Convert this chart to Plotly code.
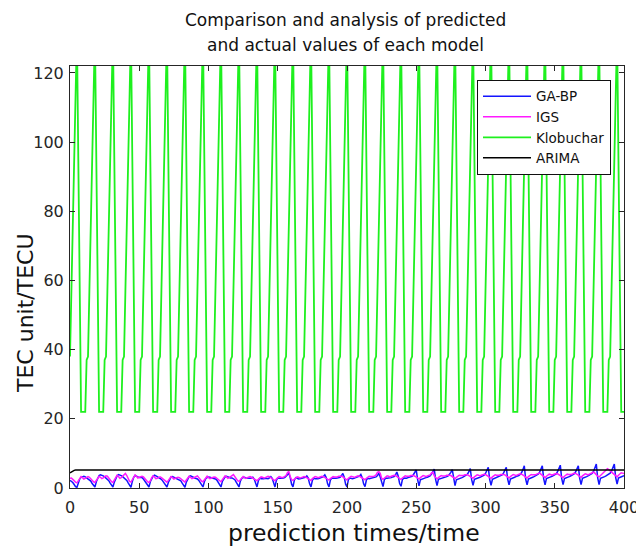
import plotly.graph_objects as go

# ---------------- data ----------------
times = list(range(0, 401))

y_ticks = [0, 20, 40, 60, 80, 100, 120]
x_ticks = [0, 50, 100, 150, 200, 250, 300, 350, 400]

ga_bp = [
    2.2, 2.0, 1.6, 1.0, 0.4, 0.2, 1.5, 2.6, 3.1, 3.3, 3.4, 3.2, 2.9,
    2.7, 2.5, 2.0, 1.3, 0.6, 0.3, 1.8, 3.0, 3.6, 3.8, 3.7, 3.5, 3.2,
    2.9, 2.6, 2.1, 1.4, 0.7, 0.3, 1.7, 2.9, 3.5, 3.9, 3.8, 3.6, 3.3,
    3.0, 2.7, 2.2, 1.5, 0.7, 0.2, 1.9, 3.1, 3.6, 3.5, 3.2, 3.0, 3.1,
    3.0, 2.6, 2.0, 1.3, 0.6, 0.3, 1.8, 2.9, 3.4, 3.7, 3.6, 3.3, 3.0,
    2.8, 2.5, 2.0, 1.4, 0.6, 0.3, 1.6, 2.7, 3.2, 3.3, 3.1, 2.9, 2.8,
    2.7, 2.5, 2.1, 1.4, 0.7, 0.2, 1.7, 2.8, 3.3, 3.5, 3.4, 3.1, 2.9,
    2.8, 2.6, 2.2, 1.5, 0.8, 0.3, 1.8, 2.7, 3.0, 3.2, 3.1, 3.0, 2.9,
    2.8, 2.6, 2.3, 1.6, 0.8, 0.3, 1.9, 2.8, 3.2, 3.4, 3.2, 3.0, 2.9,
    2.9, 2.7, 2.4, 1.7, 0.9, 0.3, 2.0, 2.8, 3.0, 3.1, 2.9, 2.8, 2.8,
    2.8, 2.9, 3.1, 2.6, 1.2, 0.3, 2.1, 2.8, 2.7, 2.6, 2.7, 2.8, 2.7,
    2.7, 2.9, 3.3, 2.8, 1.1, 0.3, 2.2, 2.9, 2.8, 2.7, 2.8, 2.9, 3.0,
    3.4, 3.9, 4.3, 3.0, 1.1, 0.3, 2.3, 3.0, 2.8, 2.6, 2.7, 2.8, 2.8,
    2.9, 3.1, 3.5, 2.9, 1.2, 0.3, 2.2, 2.8, 2.7, 2.6, 2.7, 2.8, 2.9,
    3.0, 3.3, 3.8, 3.0, 1.2, 0.3, 2.3, 2.9, 2.8, 2.7, 2.8, 2.9, 3.0,
    3.1, 3.6, 4.2, 3.1, 1.1, 0.3, 2.4, 2.9, 2.7, 2.7, 2.8, 2.9, 3.0,
    3.1, 3.4, 3.9, 3.0, 1.2, 0.4, 2.3, 2.8, 2.7, 2.8, 2.9, 3.0, 3.1,
    3.2, 3.6, 4.3, 3.2, 1.3, 0.4, 2.4, 2.9, 2.8, 2.8, 2.9, 3.0, 3.2,
    3.3, 3.8, 4.6, 3.4, 1.3, 0.5, 2.4, 2.9, 2.8, 2.8, 3.0, 3.1, 3.2,
    3.4, 3.9, 4.5, 5.2, 2.4, 0.6, 2.4, 2.6, 2.7, 2.8, 3.0, 3.1, 3.3,
    3.5, 4.0, 4.7, 5.5, 2.4, 0.7, 2.5, 2.6, 2.8, 2.9, 3.0, 3.2, 3.3,
    3.5, 3.9, 4.5, 5.3, 2.3, 0.7, 2.4, 2.5, 2.7, 2.9, 3.0, 3.2, 3.4,
    3.6, 4.0, 4.7, 5.6, 2.4, 0.8, 2.5, 2.6, 2.8, 3.0, 3.1, 3.3, 3.5,
    3.7, 4.2, 5.0, 6.0, 2.5, 0.8, 2.5, 2.7, 2.8, 3.0, 3.2, 3.4, 3.6,
    3.8, 4.3, 5.1, 6.0, 2.6, 0.9, 2.6, 2.7, 2.9, 3.1, 3.3, 3.4, 3.6,
    3.9, 4.4, 5.3, 6.4, 2.6, 0.9, 2.6, 2.7, 2.9, 3.1, 3.3, 3.5, 3.7,
    4.0, 4.5, 5.4, 6.4, 2.7, 0.9, 2.7, 2.8, 3.0, 3.2, 3.4, 3.6, 3.8,
    4.1, 4.7, 5.6, 6.6, 2.8, 1.0, 2.7, 2.8, 3.0, 3.2, 3.4, 3.6, 3.8,
    4.1, 4.6, 5.4, 6.4, 2.8, 1.0, 2.8, 2.9, 3.1, 3.3, 3.5, 3.7, 3.9,
    4.2, 4.8, 5.8, 6.9, 2.9, 1.0, 2.8, 2.9, 3.1, 3.3, 3.5, 3.7, 4.0,
    4.3, 4.9, 5.9, 6.9, 3.0, 1.1, 2.9, 3.0, 3.2, 3.4, 3.6,
]

igs = [
    2.8, 2.9, 2.5, 2.0, 1.7, 1.5, 2.0, 2.8, 3.3, 3.0, 2.6, 2.8, 3.1,
    3.3, 3.1, 2.6, 2.1, 1.8, 1.6, 2.1, 2.9, 3.4, 3.1, 2.7, 2.9, 3.2,
    3.5, 3.4, 2.8, 2.2, 1.8, 1.6, 2.2, 3.1, 3.7, 3.3, 2.8, 3.0, 3.4,
    3.9, 4.2, 3.6, 2.5, 1.9, 1.7, 2.3, 3.2, 3.8, 3.4, 2.9, 3.1, 3.3,
    3.4, 3.2, 2.7, 2.2, 1.8, 1.6, 2.1, 3.0, 3.5, 3.2, 2.7, 2.8, 3.1,
    3.2, 3.0, 2.6, 2.2, 1.9, 1.7, 2.2, 2.9, 3.3, 3.0, 2.6, 2.8, 3.0,
    3.1, 3.0, 2.7, 2.3, 1.9, 1.7, 2.3, 3.0, 3.4, 3.1, 2.7, 2.9, 3.1,
    3.3, 3.5, 3.0, 2.4, 2.0, 1.8, 2.3, 3.0, 3.4, 3.0, 2.7, 2.9, 3.1,
    3.2, 3.1, 2.8, 2.4, 2.0, 1.8, 2.4, 3.1, 3.5, 3.2, 2.8, 3.0, 3.2,
    3.6, 3.9, 3.3, 2.5, 2.1, 1.9, 2.4, 3.0, 3.3, 3.0, 2.8, 3.0, 3.2,
    3.3, 3.1, 2.9, 2.6, 2.3, 2.1, 2.5, 3.0, 3.2, 3.1, 2.9, 3.0, 3.2,
    3.4, 3.3, 3.0, 2.7, 2.3, 2.1, 2.6, 3.1, 3.3, 3.2, 3.0, 3.1, 3.3,
    3.6, 4.4, 4.8, 3.3, 2.4, 2.2, 2.6, 3.0, 3.2, 3.1, 2.9, 3.0, 3.2,
    3.3, 3.2, 3.0, 2.7, 2.4, 2.2, 2.7, 3.1, 3.3, 3.2, 3.0, 3.1, 3.3,
    3.4, 3.3, 3.1, 2.8, 2.5, 2.3, 2.7, 3.1, 3.3, 3.2, 3.1, 3.2, 3.4,
    3.5, 3.4, 3.2, 2.9, 2.5, 2.3, 2.8, 3.2, 3.4, 3.3, 3.1, 3.2, 3.4,
    3.5, 3.4, 3.2, 2.9, 2.6, 2.4, 2.8, 3.2, 3.4, 3.3, 3.2, 3.3, 3.5,
    3.8, 4.5, 4.7, 4.2, 2.8, 2.5, 2.9, 3.3, 3.5, 3.4, 3.2, 3.4, 3.6,
    3.7, 3.6, 3.4, 3.1, 2.7, 2.5, 2.9, 3.3, 3.5, 3.4, 3.3, 3.4, 3.6,
    3.7, 3.6, 3.4, 3.1, 2.8, 2.6, 3.0, 3.4, 3.6, 3.5, 3.3, 3.5, 3.7,
    3.8, 4.3, 4.6, 3.5, 2.9, 2.6, 3.0, 3.4, 3.6, 3.5, 3.4, 3.5, 3.7,
    3.8, 3.7, 3.6, 3.3, 2.9, 2.7, 3.1, 3.5, 3.7, 3.6, 3.5, 3.6, 3.8,
    3.9, 3.8, 3.6, 3.3, 3.0, 2.8, 3.2, 3.6, 3.8, 3.7, 3.5, 3.7, 3.9,
    4.0, 3.9, 3.7, 3.4, 3.0, 2.8, 3.2, 3.6, 3.8, 3.7, 3.6, 3.7, 3.9,
    4.0, 3.9, 3.8, 3.5, 3.1, 2.9, 3.3, 3.7, 3.9, 3.8, 3.6, 3.8, 4.0,
    4.1, 4.0, 3.8, 3.5, 3.1, 2.9, 3.3, 3.7, 3.9, 3.8, 3.7, 3.8, 4.0,
    4.2, 4.3, 4.0, 3.6, 3.2, 3.0, 3.4, 3.8, 4.0, 3.9, 3.7, 3.9, 4.1,
    4.2, 4.1, 3.9, 3.6, 3.2, 3.0, 3.4, 3.8, 4.0, 3.9, 3.8, 3.9, 4.1,
    4.3, 4.2, 4.0, 3.7, 3.3, 3.1, 3.5, 3.9, 4.1, 4.0, 3.8, 4.0, 4.2,
    4.4, 4.6, 4.3, 3.8, 3.4, 3.2, 3.6, 4.0, 4.3, 4.6, 5.2, 5.6, 5.3,
    4.9, 4.5, 4.2, 3.8, 3.4, 3.2, 3.7, 4.1, 4.4, 4.3, 4.2,
]

klobuchar = [
    38, 57, 76, 95, 114, 132, 95, 58, 22, 22, 22, 22, 37,
    38, 57, 76, 95, 114, 132, 95, 58, 22, 22, 22, 22, 37,
    38, 57, 76, 95, 114, 132, 95, 58, 22, 22, 22, 22, 37,
    38, 57, 76, 95, 114, 132, 95, 58, 22, 22, 22, 22, 37,
    38, 57, 76, 95, 114, 132, 95, 58, 22, 22, 22, 22, 37,
    38, 57, 76, 95, 114, 132, 95, 58, 22, 22, 22, 22, 37,
    38, 57, 76, 95, 114, 132, 95, 58, 22, 22, 22, 22, 37,
    38, 57, 76, 95, 114, 132, 95, 58, 22, 22, 22, 22, 37,
    38, 57, 76, 95, 114, 132, 95, 58, 22, 22, 22, 22, 37,
    38, 57, 76, 95, 114, 132, 95, 58, 22, 22, 22, 22, 37,
    38, 57, 76, 95, 114, 132, 95, 58, 22, 22, 22, 22, 37,
    38, 57, 76, 95, 114, 132, 95, 58, 22, 22, 22, 22, 37,
    38, 57, 76, 95, 114, 132, 95, 58, 22, 22, 22, 22, 37,
    38, 57, 76, 95, 114, 132, 95, 58, 22, 22, 22, 22, 37,
    38, 57, 76, 95, 114, 132, 95, 58, 22, 22, 22, 22, 37,
    38, 57, 76, 95, 114, 132, 95, 58, 22, 22, 22, 22, 37,
    38, 57, 76, 95, 114, 132, 95, 58, 22, 22, 22, 22, 37,
    38, 57, 76, 95, 114, 132, 95, 58, 22, 22, 22, 22, 37,
    38, 57, 76, 95, 114, 132, 95, 58, 22, 22, 22, 22, 37,
    38, 57, 76, 95, 114, 132, 95, 58, 22, 22, 22, 22, 37,
    38, 57, 76, 95, 114, 132, 95, 58, 22, 22, 22, 22, 37,
    38, 57, 76, 95, 114, 132, 95, 58, 22, 22, 22, 22, 37,
    38, 57, 76, 95, 114, 132, 95, 58, 22, 22, 22, 22, 37,
    38, 57, 76, 95, 114, 132, 95, 58, 22, 22, 22, 22, 37,
    38, 57, 76, 95, 114, 132, 95, 58, 22, 22, 22, 22, 37,
    38, 57, 76, 95, 114, 132, 95, 58, 22, 22, 22, 22, 37,
    38, 57, 76, 95, 114, 132, 95, 58, 22, 22, 22, 22, 37,
    38, 57, 76, 95, 114, 132, 95, 58, 22, 22, 22, 22, 37,
    38, 57, 76, 95, 114, 132, 95, 58, 22, 22, 22, 22, 37,
    38, 57, 76, 95, 114, 132, 95, 58, 22, 22, 22, 22, 37,
    38, 57, 76, 95, 114, 132, 95, 58, 22, 22, 22,
]

arima_times = [0, 1, 2, 3, 4, 400]
arima = [4.4, 4.7, 4.9, 5.1, 5.2, 5.2]

# ---------------- figure ----------------
TXT = "#262626"
fig = go.Figure()
fig.add_trace(go.Scatter(x=times[:len(ga_bp)], y=ga_bp, mode="lines", name="GA-BP",
                         line=dict(color="#1414ff", width=1.5)))
fig.add_trace(go.Scatter(x=times[:len(igs)], y=igs, mode="lines", name="IGS",
                         line=dict(color="#ff1aff", width=1.5)))
fig.add_trace(go.Scatter(x=times[:len(klobuchar)], y=klobuchar, mode="lines", name="Klobuchar",
                         line=dict(color="#1ef01e", width=1.8)))
fig.add_trace(go.Scatter(x=arima_times, y=arima, mode="lines", name="ARIMA",
                         line=dict(color="#000000", width=1.5)))

axis_common = dict(showline=True, linecolor=TXT, linewidth=1, mirror="ticks",
                   ticks="inside", ticklen=5, tickcolor=TXT, showgrid=False,
                   zeroline=False, ticklabeloverflow="allow", automargin=False,
                   tickfont=dict(family="DejaVu Sans", size=16, color=TXT))

fig.update_xaxes(range=[0, 400], tickvals=x_ticks, ticklabelstandoff=5, **axis_common)
fig.update_yaxes(range=[0, 122], tickvals=y_ticks, ticklabelstandoff=2, **axis_common)

title_font = dict(family="DejaVu Sans", size=17, color="#111111")

fig.update_layout(
    width=636, height=548,
    margin=dict(l=70, r=12, t=66, b=60, autoexpand=False),
    paper_bgcolor="white", plot_bgcolor="white",
    legend=dict(x=(477 - 70) / 554, xanchor="left", y=0.967, yanchor="top",
                bgcolor="white", bordercolor="#111111", borderwidth=1,
                font=dict(family="DejaVu Sans", size=13.5, color="#111111"),
                itemwidth=48, tracegroupgap=0),
    annotations=[
        dict(text="Comparison and analysis of predicted", xref="paper", yref="paper",
             x=(345 - 70) / 554, y=(488 - 20) / 422, xanchor="center", yanchor="middle",
             showarrow=False, font=title_font),
        dict(text="and actual values of each model", xref="paper", yref="paper",
             x=(345 - 70) / 554, y=(488 - 45) / 422, xanchor="center", yanchor="middle",
             showarrow=False, font=title_font),
        dict(text="prediction times/time", xref="paper", yref="paper",
             x=(354 - 70) / 554, y=(488 - 533) / 422, xanchor="center", yanchor="middle",
             showarrow=False, font=dict(family="DejaVu Sans", size=23.5, color="#111111")),
        dict(text="TEC unit/TECU", xref="paper", yref="paper",
             x=(25 - 70) / 554, y=(488 - 313) / 422, xanchor="center", yanchor="middle",
             textangle=-90, showarrow=False,
             font=dict(family="DejaVu Sans", size=22, color="#111111")),
    ],
)

fig.write_html("out.html")
